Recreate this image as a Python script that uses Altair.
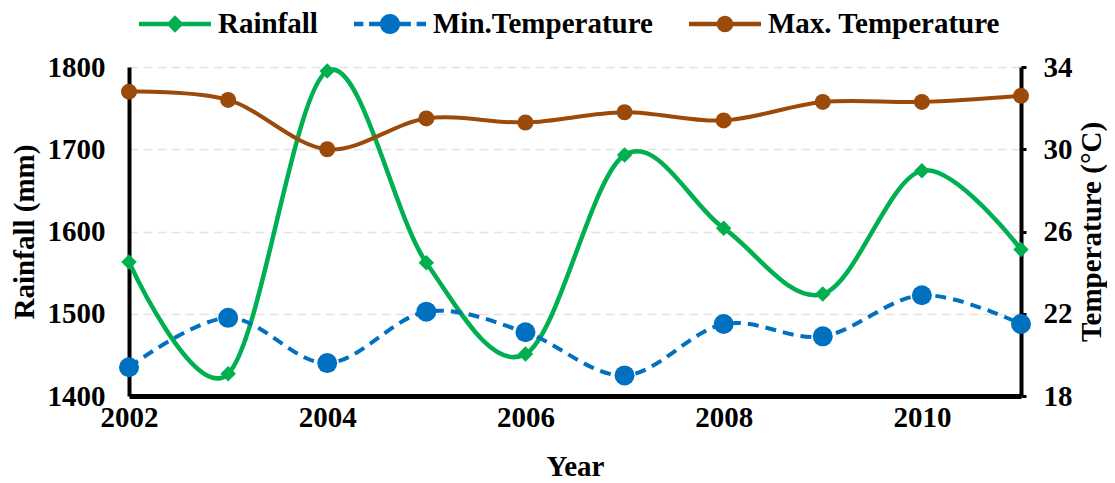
import altair as alt
import pandas as pd

years = [2002, 2003, 2004, 2005, 2006, 2007, 2008, 2009, 2010, 2011]
rainfall = [1563, 1427, 1795, 1562, 1451, 1693, 1604, 1524, 1674, 1578]
min_temp = [19.4, 21.8, 19.6, 22.1, 21.1, 19.0, 21.5, 20.9, 22.9, 21.5]
max_temp = [32.8, 32.4, 30.0, 31.5, 31.3, 31.8, 31.4, 32.3, 32.3, 32.6]

series_names = ["Rainfall", "Min.Temperature", "Max. Temperature"]
series_colors = ["#00B050", "#0070C0", "#9C4A0A"]

rain_ticks = [1400, 1500, 1600, 1700, 1800]
temp_ticks = [18, 22, 26, 30, 34]
year_ticks = [2002, 2004, 2006, 2008, 2010]

df = pd.DataFrame({"year": years, "rainfall": rainfall,
                   "min_temp": min_temp, "max_temp": max_temp})
df["series"] = "Rainfall"

FONT = "Liberation Serif"

# legend glyphs: line + marker, in unit coordinates (x spans -1..1)
leg_green = ("M-1,-0.065 L1,-0.065 L1,0.065 L-1,0.065 Z "
             "M0,-0.24 L0.24,0 L0,0.24 L-0.24,0 Z")
leg_blue = ("M-1,-0.06 L-0.74,-0.06 L-0.74,0.06 L-1,0.06 Z "
            "M-0.58,-0.06 L-0.22,-0.06 L-0.22,0.06 L-0.58,0.06 Z "
            "M0.22,-0.06 L0.58,-0.06 L0.58,0.06 L0.22,0.06 Z "
            "M0.74,-0.06 L1,-0.06 L1,0.06 L0.74,0.06 Z "
            "M-0.28,0 A0.28,0.28 0 1,1 0.28,0 A0.28,0.28 0 1,1 -0.28,0 Z")
leg_brown = ("M-1,-0.06 L1,-0.06 L1,0.06 L-1,0.06 Z "
             "M-0.23,0 A0.23,0.23 0 1,1 0.23,0 A0.23,0.23 0 1,1 -0.23,0 Z")

x_enc = alt.X("year:Q",
              scale=alt.Scale(domain=[2002, 2011], nice=False, zero=False),
              axis=alt.Axis(values=year_ticks, format="d", title="Year",
                            labelPadding=7, domainWidth=5,
                            titleX=446, titleY=70, titleAlign="center",
                            titleBaseline="middle"))

y_rain = alt.Y("rainfall:Q",
               scale=alt.Scale(domain=[1400, 1800], nice=False, zero=False),
               axis=alt.Axis(values=rain_ticks, format="d", title="Rainfall (mm)",
                             grid=True, gridDash=[9, 5], gridColor="#E4E4E4",
                             gridWidth=1.5, labelPadding=24,
                             titleAngle=270, titleX=-105, titleY=164.5,
                             titleAlign="center", titleBaseline="middle"))

base = alt.Chart(df)

rain_line = base.mark_line(interpolate="cardinal", strokeWidth=4.5,
                           color="#00B050").encode(x=x_enc, y=y_rain)
rain_pts = base.mark_point(shape="diamond", filled=True, size=240, opacity=1,
                           color="#00B050").encode(x=x_enc, y=y_rain)

legend_layer = base.transform_filter("datum.year > 3000").mark_point(
    filled=True, opacity=1).encode(
    x=x_enc, y=y_rain,
    color=alt.Color("series:N",
                    scale=alt.Scale(domain=series_names, range=series_colors),
                    legend=alt.Legend(orient="none", legendX=10, legendY=-79,
                                      direction="horizontal", title=None,
                                      labelFont=FONT, labelFontSize=29,
                                      labelFontWeight="bold", labelColor="black",
                                      labelLimit=500,
                                      symbolSize=5184, labelOffset=7,
                                      columnPadding=36, symbolStrokeWidth=0,
                                      symbolOpacity=1)),
    shape=alt.Shape("series:N",
                    scale=alt.Scale(domain=series_names,
                                    range=[leg_green, leg_blue, leg_brown])),
)

y_min = alt.Y("min_temp:Q",
              scale=alt.Scale(domain=[18, 34], nice=False, zero=False),
              axis=alt.Axis(values=temp_ticks, orient="right",
                            title="Temperature (°C)", ticks=True, tickSize=5,
                            tickWidth=3, tickColor="black", labelPadding=17,
                            titleAngle=270, titleX=70, titleY=164.5,
                            titleAlign="center", titleBaseline="middle"))
y_max = alt.Y("max_temp:Q")

min_line = base.mark_line(interpolate="cardinal", strokeWidth=4,
                          strokeDash=[11, 7], color="#0070C0").encode(x=x_enc, y=y_min)
min_pts = base.mark_point(shape="circle", filled=True, size=400, opacity=1,
                          color="#0070C0").encode(x=x_enc, y=y_min)
max_line = base.mark_line(interpolate="cardinal", strokeWidth=4,
                          color="#9C4A0A").encode(x=x_enc, y=y_max)
max_pts = base.mark_point(shape="circle", filled=True, size=256, opacity=1,
                          color="#9C4A0A").encode(x=x_enc, y=y_max)

left = alt.layer(rain_line, rain_pts, legend_layer)
right = alt.layer(min_line, max_line, min_pts, max_pts)

chart = alt.layer(left, right).resolve_scale(y="independent").properties(
    width=892, height=329,
    padding={"left": 121, "top": 59, "right": 86, "bottom": 86},
    autosize=alt.AutoSizeParams(type="none"),
).configure_view(strokeWidth=0).configure_axis(
    labelFont=FONT, labelFontSize=29, labelFontWeight="bold", labelColor="black",
    titleFont=FONT, titleFontSize=29, titleFontWeight="bold", titleColor="black",
    domainColor="black", domainWidth=4, ticks=False, grid=False,
    labelFlush=False,
)

chart.save("out.html", embed_options={"renderer": "svg", "actions": False})
